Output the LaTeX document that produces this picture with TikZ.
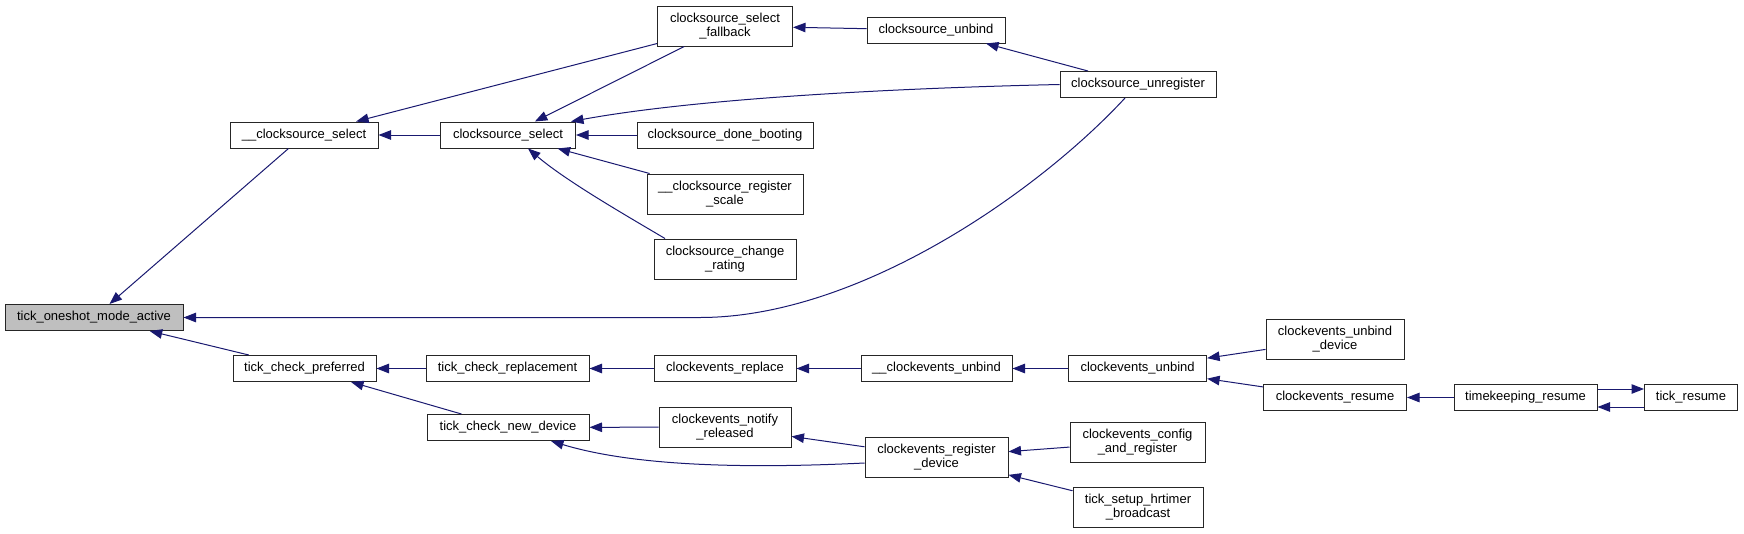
\documentclass[tikz,border=0pt]{standalone}
\usepackage{fontspec}
\setmainfont{Liberation Sans}
\usetikzlibrary{arrows.meta}
\definecolor{edgeblue}{RGB}{25,25,112}
\definecolor{hlgray}{RGB}{191,191,191}

\begin{document}
\begin{tikzpicture}[
    x=1pt, y=-1pt,
    box/.style={draw=black!85, rectangle, fill=white, line width=1pt, inner sep=0pt, minimum height=26pt, align=center, font=\fontsize{13pt}{14.6pt}\selectfont},
    tall/.style={box, minimum height=40pt},
    arr/.style={-{Triangle[length=12.5pt, width=9.5pt]}, draw=edgeblue, line width=1pt}
]
    \useasboundingbox (0,0) rectangle (1744,533);

    % Column 0
    \node[box, fill=hlgray, minimum width=178pt] (oneshot) at (94,317.5) {tick\_oneshot\_mode\_active};

    % Column 1
    \node[box, minimum width=148pt] (ucsselect) at (304,135) {\_\_clocksource\_select};
    \node[box, minimum width=143pt] (tckpref) at (304.5,368.5) {tick\_check\_preferred};

    % Column 2
    \node[box, minimum width=135pt] (csselect) at (508,135) {clocksource\_select};
    \node[box, minimum width=163pt] (tckrepl) at (507.5,368.5) {tick\_check\_replacement};
    \node[box, minimum width=162pt] (tcknew) at (508,427.5) {tick\_check\_new\_device};

    % Column 3
    \node[tall, minimum width=135pt] (csfallback) at (725,26) {clocksource\_select\\\_fallback};
    \node[box, minimum width=176pt] (csdone) at (725,135) {clocksource\_done\_booting};
    \node[tall, minimum width=156pt] (csregscale) at (725,194) {\_\_clocksource\_register\\\_scale};
    \node[tall, minimum width=142pt] (cschange) at (725,259) {clocksource\_change\\\_rating};
    \node[box, minimum width=142pt] (cereplace) at (725,368.5) {clockevents\_replace};
    \node[tall, minimum width=132pt] (cenotify) at (725,427) {clockevents\_notify\\\_released};

    % Column 4
    \node[box, minimum width=138pt] (csunbind) at (936,30) {clocksource\_unbind};
    \node[box, minimum width=151pt] (uceunbind) at (936.5,368.5) {\_\_clockevents\_unbind};
    \node[tall, minimum width=143pt] (ceregdev) at (936.5,457) {clockevents\_register\\\_device};

    % Column 5
    \node[box, minimum width=156pt] (csunreg) at (1138,84.5) {clocksource\_unregister};
    \node[box, minimum width=138pt] (ceunbind) at (1137.6,368.5) {clockevents\_unbind};
    \node[tall, minimum width=135pt] (ceconfig) at (1137.5,442) {clockevents\_config\\\_and\_register};
    \node[tall, minimum width=130pt] (tckhrtimer) at (1138,507) {tick\_setup\_hrtimer\\\_broadcast};

    % Column 6
    \node[tall, minimum width=138pt] (ceunbinddev) at (1335,339) {clockevents\_unbind\\\_device};
    \node[box, minimum width=143pt] (ceresume) at (1335,397.5) {clockevents\_resume};

    % Column 7
    \node[box, minimum width=143pt] (tkresume) at (1525.5,397.5) {timekeeping\_resume};
    \node[box, minimum width=93pt] (tckresume) at (1691,397.5) {tick\_resume};

    % Callers of tick_oneshot_mode_active
    \draw[arr] (ucsselect) -- (oneshot);
    \draw[arr] (tckpref) -- (oneshot);
    \draw[arr] ([xshift=-13pt]csunreg.south) .. controls (1040,190) and (860,317.5) .. (700,317.5) -- (oneshot.east);

    % Clocksource side
    \draw[arr] (csselect) -- (ucsselect);
    \draw[arr] (csfallback) -- (ucsselect);
    \draw[arr] (csfallback) -- (csselect);
    \draw[arr] (csunreg.west) .. controls (900,88) and (700,98) .. ([xshift=-5pt]csselect.north east);
    \draw[arr] (csdone) -- (csselect);
    \draw[arr] (csregscale) -- (csselect);
    \draw[arr] ([xshift=-60pt]cschange.north) .. controls (620,212) and (565,180) .. ([xshift=20pt]csselect.south);
    \draw[arr] (csunbind) -- (csfallback);
    \draw[arr] (csunreg) -- (csunbind);

    % Clockevents side
    \draw[arr] (tckrepl) -- (tckpref);
    \draw[arr] (tcknew) -- (tckpref);
    \draw[arr] (cereplace) -- (tckrepl);
    \draw[arr] (uceunbind) -- (cereplace);
    \draw[arr] (ceunbind) -- (uceunbind);
    \draw[arr] (ceunbinddev) -- (ceunbind);
    \draw[arr] (ceresume) -- (ceunbind);
    \draw[arr] (tkresume) -- (ceresume);
    \draw[arr] ([yshift=8.5pt]tkresume.east) -- ([yshift=8.5pt]tckresume.west);
    \draw[arr] ([yshift=-9.5pt]tckresume.west) -- ([yshift=-9.5pt]tkresume.east);
    \draw[arr] (cenotify) -- (tcknew);
    \draw[arr] ([yshift=-6pt]ceregdev.west) .. controls (760,468) and (640,468) .. ([xshift=43pt]tcknew.south);
    \draw[arr] (ceregdev) -- (cenotify);
    \draw[arr] (ceconfig) -- (ceregdev);
    \draw[arr] (tckhrtimer) -- (ceregdev);
\end{tikzpicture}
\end{document}
